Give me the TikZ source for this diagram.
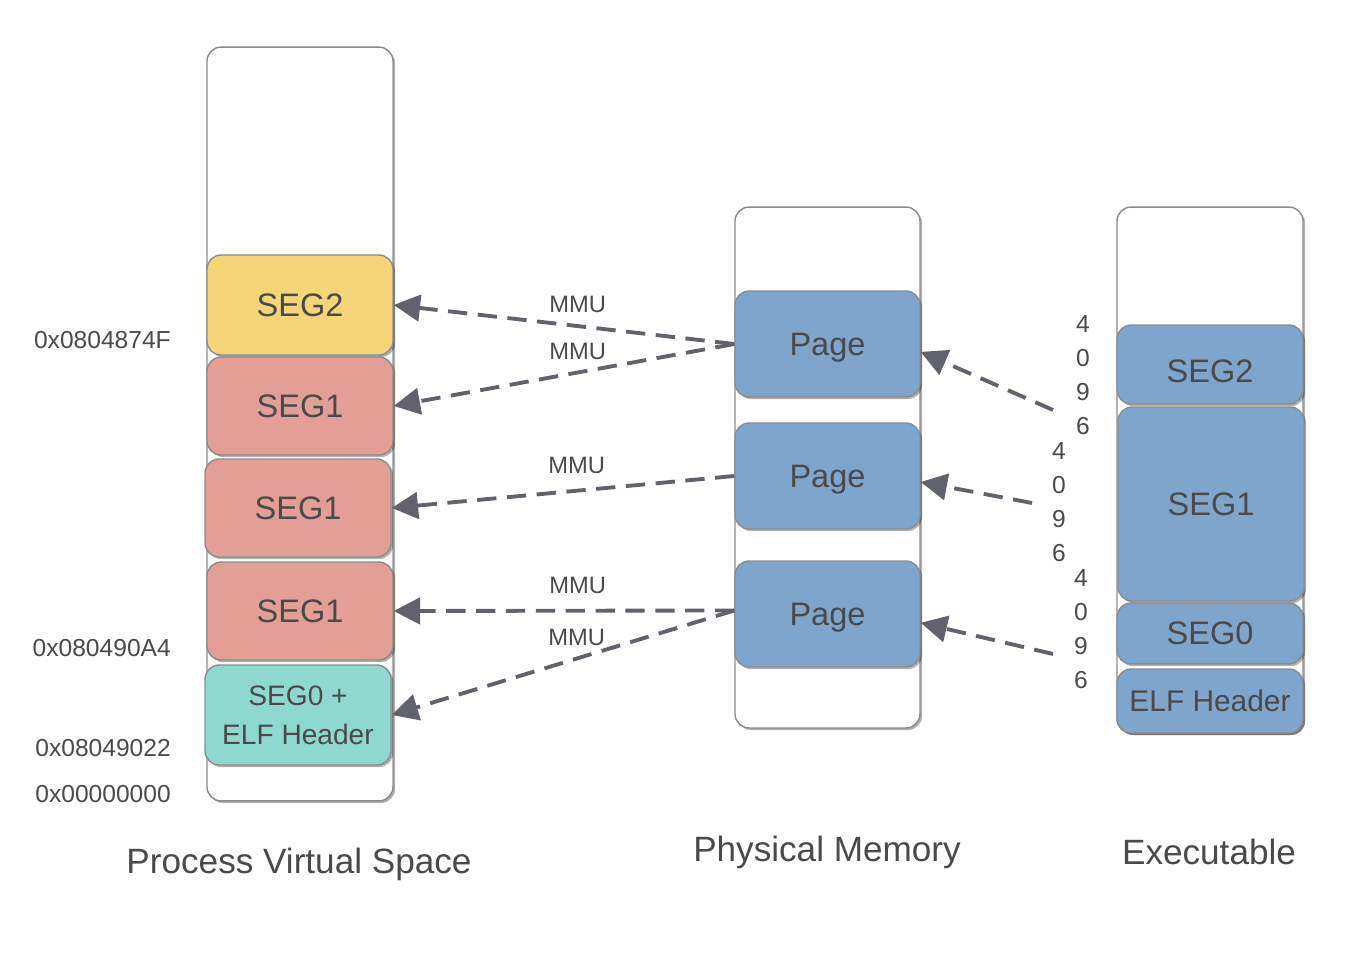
\documentclass[tikz,border=0pt]{standalone}
\usepackage{fontspec}
\setmainfont{Liberation Sans}
\usepackage{tikz}
\usetikzlibrary{positioning,arrows.meta,shadows}
\definecolor{EdgeGray}{HTML}{8C8C8C}
\definecolor{TxtGray}{HTML}{4A4A4A}
\definecolor{ArrGray}{HTML}{62626E}
\definecolor{SegYellow}{HTML}{F5D577}
\definecolor{SegRed}{HTML}{E39E96}
\definecolor{SegTeal}{HTML}{8FD8CF}
\definecolor{PageBlue}{HTML}{7EA6CD}

\begin{document}
\begin{tikzpicture}[x=0.02cm, y=-0.02cm,
    membox/.style={rectangle, rounded corners=8pt, draw=EdgeGray, line width=0.8pt, fill=white, minimum width=3.72cm,
        drop shadow={shadow xshift=1.2pt, shadow yshift=-1.2pt, opacity=0.3, fill=black}},
    seg/.style={rectangle, rounded corners=8pt, draw=EdgeGray, line width=0.8pt, minimum width=3.72cm, minimum height=1.96cm,
        text=TxtGray, font=\fontsize{18.5}{22}\selectfont, text depth=0pt,
        drop shadow={shadow xshift=1.2pt, shadow yshift=-1.2pt, opacity=0.3, fill=black}},
    addr/.style={anchor=east, text=TxtGray, font=\fontsize{14}{16}\selectfont},
    mmu/.style={text=TxtGray, font=\fontsize{13.5}{16}\selectfont},
    sizelabel/.style={text=TxtGray, align=center, inner sep=0pt, font=\fontsize{14}{19.3}\selectfont},
    caption/.style={text=TxtGray, font=\fontsize{20}{24}\selectfont},
    arrow/.style={-{Triangle[length=15pt, width=15pt]}, ArrGray, line width=2.2pt, dash pattern=on 11pt off 6pt}
]
    \useasboundingbox (0,0) rectangle (1368,962);

    % Process virtual space
    \node[membox, minimum height=15.08cm] (vspace) at (300, 424) {};
    \node[seg, fill=SegYellow, minimum height=2cm] (vseg2) at (300, 305) {SEG2};
    \node[seg, fill=SegRed] (vseg1a) at (300, 406) {SEG1};
    \node[seg, fill=SegRed] (vseg1b) at (298, 508) {SEG1};
    \node[seg, fill=SegRed] (vseg1c) at (300, 611) {SEG1};
    \node[seg, fill=SegTeal, minimum height=2cm, align=center, font=\fontsize{16}{22.5}\selectfont] (vseg0) at (298, 715) {SEG0 +\\ELF Header};

    % Addresses
    \node[addr] (a1) at (177, 340) {0x0804874F};
    \node[addr] (a2) at (177, 648) {0x080490A4};
    \node[addr] (a3) at (177, 748) {0x08049022};
    \node[addr] (a4) at (177, 794) {0x00000000};

    % Physical memory
    \node[membox, minimum width=3.7cm, minimum height=10.42cm] (pmem) at (827.5, 467.5) {};
    \node[seg, fill=PageBlue, minimum width=3.7cm, minimum height=2.12cm] (page1) at (827.5, 344) {Page};
    \node[seg, fill=PageBlue, minimum width=3.7cm, minimum height=2.12cm] (page2) at (827.5, 476) {Page};
    \node[seg, fill=PageBlue, minimum width=3.7cm, minimum height=2.12cm] (page3) at (827.5, 614) {Page};

    % Executable
    \node[membox, minimum height=10.52cm] (exec) at (1210, 470) {};
    \node[seg, fill=PageBlue, minimum height=1.58cm, text height=21pt] (eseg2) at (1210, 364.5) {SEG2};
    \node[seg, fill=PageBlue, minimum height=3.88cm] (eseg1) at (1211, 504) {SEG1};
    \node[seg, fill=PageBlue, minimum height=1.22cm] (eseg0) at (1210, 633.5) {SEG0};
    \node[seg, fill=PageBlue, minimum height=1.28cm, font=\fontsize{17}{20}\selectfont] (ehdr) at (1210, 701) {ELF Header};

    % 4096 sizes
    \node[sizelabel] (size1) at (1083, 375) {4\\0\\9\\6};
    \node[sizelabel] (size2) at (1059, 502) {4\\0\\9\\6};
    \node[sizelabel] (size3) at (1081, 629) {4\\0\\9\\6};
    \coordinate (from1) at (1053, 410);
    \coordinate (from2) at (1032, 503);
    \coordinate (from3) at (1053, 654);

    % Captions
    \node[caption] (capv) at (299, 864) {Process Virtual Space};
    \node[caption] (capp) at (827, 852) {Physical Memory};
    \node[caption] (cape) at (1209, 852) {Executable};

    % MMU mappings
    \draw[arrow] (page1.west) -- node[mmu, pos=0.46, above=3pt] {MMU} (vseg2.east);
    \draw[arrow] (page1.west) -- node[mmu, pos=0.46, above=3pt] {MMU} (vseg1a.east);
    \draw[arrow] (page2.west) -- node[mmu, pos=0.46, above=5pt] {MMU} (vseg1b.east);
    \draw[arrow] ([yshift=2pt]page3.west) -- node[mmu, pos=0.46, above=5pt] {MMU} (vseg1c.east);
    \draw[arrow] ([yshift=2pt]page3.west) -- node[mmu, pos=0.46, above=3pt] {MMU} (vseg0.east);

    % File to memory
    \draw[arrow] (from1) -- ([yshift=-4.5pt]page1.east);
    \draw[arrow] (from2) -- ([yshift=-3.4pt]page2.east);
    \draw[arrow] (from3) -- ([yshift=-5pt]page3.east);
\end{tikzpicture}
\end{document}
